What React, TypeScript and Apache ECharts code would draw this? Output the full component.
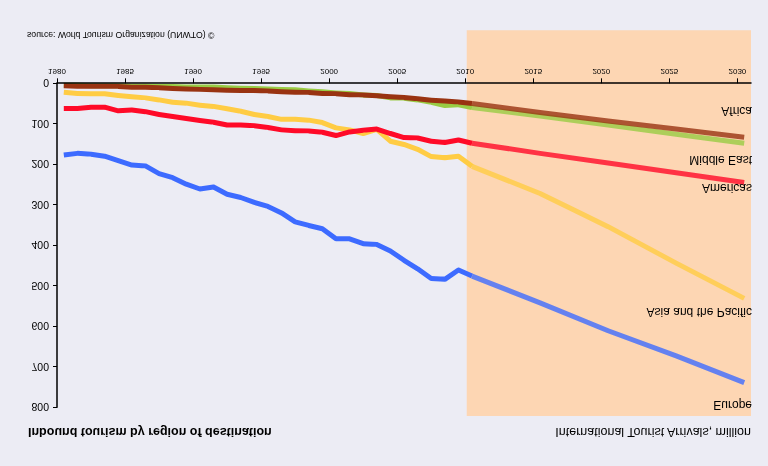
import React, { useEffect, useRef } from "react";
import * as echarts from "echarts";

// ---- data (million international tourist arrivals) ----
const histYears = [
  1980, 1981, 1982, 1983, 1984, 1985, 1986, 1987, 1988, 1989, 1990, 1991, 1992, 1993, 1994, 1995,
  1996, 1997, 1998, 1999, 2000, 2001, 2002, 2003, 2004, 2005, 2006, 2007, 2008, 2009, 2010,
];
const europeHist = [
  177, 173, 175, 180, 191, 202, 204, 223, 233, 249, 261, 256, 274, 282, 294, 304,
  320, 342, 351, 359, 384, 384, 396, 398, 414, 437, 458, 482, 484, 461, 476,
];
const asiaHist = [
  22, 25, 26, 26, 30, 33, 36, 41, 47, 49, 54, 57, 63, 69, 77, 82,
  89, 89, 91, 97, 110, 115, 124, 114, 143, 151, 163, 181, 184, 180, 205,
];
const americasHist = [
  62, 62, 59, 59, 68, 66, 70, 77, 82, 87, 92, 96, 103, 103, 105, 109,
  115, 117, 118, 121, 129, 120, 116, 113, 124, 134, 135, 143, 146, 140, 148,
];
const middleEastHist = [
  5, 5, 6, 6, 6, 7, 7, 8, 8, 9, 9, 9, 11, 12, 13, 14,
  15, 16, 19, 21, 24, 25, 29, 30, 36, 37, 41, 47, 55, 53, 60,
];
const africaHist = [
  6, 7, 7, 7, 8, 10, 10, 11, 13, 14, 15, 16, 17, 18, 18, 19,
  21, 22, 23, 25, 26, 28, 29, 31, 33, 35, 38, 42, 44, 46, 50,
];

const forecastYears = [2010, 2015, 2020, 2025, 2030];
const europeForecast = [476, 542, 611, 673, 739];
const asiaForecast = [205, 272, 354, 444, 531];
const americasForecast = [148, 173, 197, 221, 245];
const middleEastForecast = [60, 81, 103, 126, 148];
const africaForecast = [50, 72, 93, 113, 133];

const regionNames = ["Europe", "Asia and the Pacific", "Americas", "Middle East", "Africa"];
const xTickYears = [1980, 1985, 1990, 1995, 2000, 2005, 2010, 2015, 2020, 2025, 2030];
const forecastStart = 2010;

const titleText = "Inbound tourism by region of destination";
const unitText = "International Tourist Arrivals, million";
const sourceText = "source: World Tourism Organization (UNWTO) \u00a9";

// ---- styles ----
const FONT = "'Liberation Sans', Arial, sans-serif";
const BG = "#ececf4";
const SHADE = "#fdd6b3";
const COLORS = ["#3d6bff", "#ffcc44", "#ff0a28", "#99cc44", "#993311"];
const LABEL_DY = [-22, -13.5, -5.5, -17, 26];

export default function App() {
  const ref = useRef<HTMLDivElement>(null);

  useEffect(() => {
    if (!ref.current) return;
    const chart = echarts.init(ref.current, undefined, { renderer: "svg" });

    const hist = [europeHist, asiaHist, americasHist, middleEastHist, africaHist];
    const fore = [europeForecast, asiaForecast, americasForecast, middleEastForecast, africaForecast];

    const series: any[] = [];
    hist.forEach((vals, k) => {
      series.push({
        name: regionNames[k],
        type: "line",
        showSymbol: false,
        silent: true,
        z: 2,
        data: histYears.map((y, i) => [y + 0.5, vals[i]]),
        lineStyle: { width: 5, color: COLORS[k], cap: "butt", join: "round" },
        itemStyle: { color: COLORS[k] },
      });
    });
    fore.forEach((vals, k) => {
      series.push({
        name: regionNames[k] + " forecast",
        type: "line",
        showSymbol: false,
        silent: true,
        z: 2,
        data: forecastYears.map((y, i) => [y + 0.5, vals[i]]),
        lineStyle: { width: 5, color: COLORS[k], opacity: 0.8, cap: "butt", join: "round" },
        itemStyle: { color: COLORS[k] },
      });
    });

    chart.setOption({
      animation: false,
      backgroundColor: BG,
      grid: { left: 57, right: 17, top: 58.7, bottom: 83.3, containLabel: false },
      xAxis: {
        type: "value",
        min: 1980,
        max: 2031,
        interval: 5,
        z: 5,
        axisLine: { show: true, onZero: false, lineStyle: { color: "#000", width: 1.5 } },
        axisTick: { show: true, length: 5, customValues: xTickYears, lineStyle: { color: "#000", width: 1 } },
        axisLabel: {
          customValues: xTickYears,
          fontSize: 8,
          color: "#000",
          fontFamily: FONT,
          margin: 8,
          formatter: (v: number) => String(v),
        },
        splitLine: { show: false },
      },
      yAxis: {
        type: "value",
        min: 0,
        max: 800,
        interval: 100,
        z: 5,
        axisLine: { show: true, lineStyle: { color: "#000", width: 1.5 } },
        axisTick: { show: true, length: 4, lineStyle: { color: "#000", width: 1 } },
        axisLabel: { fontSize: 10.5, color: "#000", fontFamily: FONT, margin: 8 },
        splitLine: { show: false },
      },
      series,
    });

    const p1 = chart.convertToPixel({ xAxisIndex: 0, yAxisIndex: 0 }, [forecastStart, 800]) as number[];
    const p2 = chart.convertToPixel({ xAxisIndex: 0, yAxisIndex: 0 }, [2031, 0]) as number[];
    const rectTop = p1[1] - 8.7;
    const rectBottom = p2[1] + 53;

    const labels = regionNames.map((name, k) => {
      const last = fore[k][fore[k].length - 1];
      const p = chart.convertToPixel({ xAxisIndex: 0, yAxisIndex: 0 }, [2031, last]) as number[];
      return {
        type: "text",
        z: 10,
        x: p[0] + 1,
        y: p[1] + LABEL_DY[k],
        style: {
          text: name,
          fill: "#000",
          fontSize: 12,
          fontFamily: FONT,
          align: "right",
          verticalAlign: "middle",
        },
      };
    });

    chart.setOption({
      graphic: [
        {
          type: "rect",
          z: 1,
          silent: true,
          shape: { x: p1[0] + 1.5, y: rectTop, width: p2[0] - p1[0] - 1.5, height: rectBottom - rectTop },
          style: { fill: SHADE },
        },
        ...labels,
        {
          type: "text",
          z: 10,
          x: 28,
          y: 34,
          style: { text: titleText, fill: "#000", fontSize: 12.5, fontWeight: "bold", fontFamily: FONT, verticalAlign: "middle" },
        },
        {
          type: "text",
          z: 10,
          x: 751,
          y: 34,
          style: { text: unitText, fill: "#000", fontSize: 12.5, fontFamily: FONT, align: "right", verticalAlign: "middle" },
        },
        {
          type: "text",
          z: 10,
          x: 27,
          y: 431,
          style: { text: sourceText, fill: "#000", fontSize: 8.7, fontFamily: FONT, verticalAlign: "middle" },
        },
      ],
    });

    return () => chart.dispose();
  }, []);

  return (
    <div
      ref={ref}
      style={{
        position: "fixed",
        left: 0,
        top: 0,
        width: 768,
        height: 466,
        background: BG,
        transform: "scaleY(-1)",
      }}
    />
  );
}
